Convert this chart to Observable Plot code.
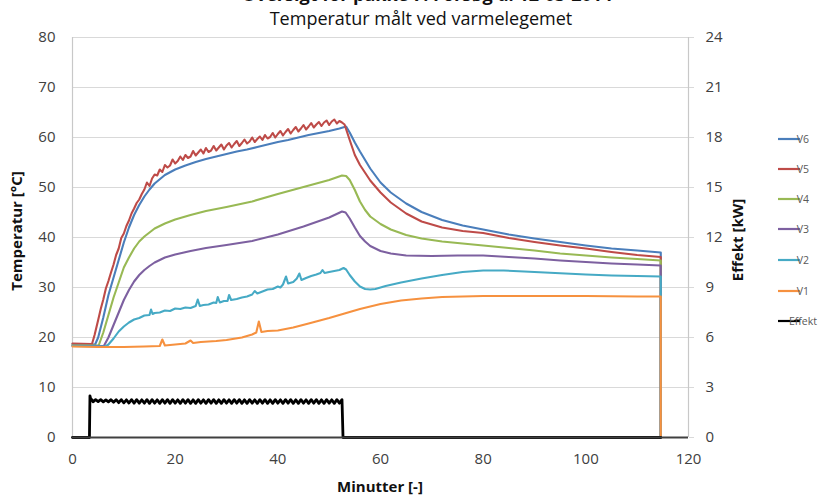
<!DOCTYPE html>
<html>
<head>
<meta charset="utf-8">
<script src="https://cdn.jsdelivr.net/npm/d3@7"></script>
<script src="https://cdn.jsdelivr.net/npm/@observablehq/plot@0.6"></script>
<style>
  html, body { margin: 0; padding: 0; background: #fff; }
  #chart { width: 827px; height: 499px; overflow: hidden; }
</style>
</head>
<body>
<div id="chart"></div>
<script>
// ---- tick labels / texts ----
const titleLine1 = "Oversigt for pakke 7. Forsøg d. 12-03-2014";
const titleLine2 = "Temperatur målt ved varmelegemet";
const xLabel = "Minutter [-]";
const yLabelLeft = "Temperatur [°C]";
const yLabelRight = "Effekt [kW]";
const xTicks = [0, 20, 40, 60, 80, 100, 120];
const yTicks = [0, 10, 20, 30, 40, 50, 60, 70, 80];
const kwTicks = [0, 3, 6, 9, 12, 15, 18, 21, 24];
const seriesNames = ["V6", "V5", "V4", "V3", "V2", "V1", "Effekt"];
const seriesColors = ["#4A7EBB", "#BE4B48", "#98B954", "#7D60A0", "#46AAC5", "#F6913F", "#000000"];

// ---- series (minutes, °C) ----
const tV6 = [0, 4.4, 5, 6, 7, 8, 9, 10, 11, 12, 13, 14, 15, 16, 18, 20, 22, 24, 26, 28, 30, 32, 34, 36, 38, 40, 42, 44, 46, 48, 50, 52, 53.3, 54, 55, 56, 58, 60, 62, 65, 68, 72, 76, 80, 85, 90, 95, 100, 105, 110, 114.6, 114.6];
const V6 = [18.7, 18.6, 20, 24, 28.5, 32, 35.5, 39, 42, 44.5, 46.5, 48.2, 49.6, 50.8, 52.5, 53.6, 54.4, 55.1, 55.7, 56.2, 56.7, 57.2, 57.6, 58.1, 58.6, 59.1, 59.5, 60, 60.5, 60.9, 61.3, 61.8, 62.2, 61, 59, 57.2, 53.8, 51, 49, 46.8, 45.1, 43.5, 42.4, 41.6, 40.6, 39.8, 39.1, 38.4, 37.8, 37.4, 37.0, 0];

const tV5 = [0, 3.8, 4.3, 5, 5.5, 6, 6.5, 7, 7.5, 8, 8.5, 9, 9.5, 10, 10.5, 11, 11.5, 12, 12.5, 13, 13.5,
  14, 14.5, 15, 15.5, 16, 16.5, 17, 17.5, 18, 18.5, 19, 19.5,
  20, 20.5, 21, 21.5, 22, 22.5, 23, 23.5, 24, 24.5, 25, 25.5,
  26, 26.5, 27, 27.5, 28, 28.5, 29, 29.5, 30, 30.5, 31, 31.5,
  32, 32.5, 33, 33.5, 34, 34.5, 35, 35.5, 36, 36.5, 37, 37.5,
  38, 38.5, 39, 39.5, 40, 40.5, 41, 41.5, 42, 42.5, 43, 43.5,
  44, 44.5, 45, 45.5, 46, 46.5, 47, 47.5, 48, 48.5, 49, 49.5,
  50, 50.5, 51, 51.5, 52, 52.5, 53,
  54, 55, 56, 58, 60, 62, 65, 68, 72, 76, 80, 85, 90, 95, 100, 105, 110, 114.6, 114.6];
const V5 = [18.8, 18.7, 20.5, 23.5, 25.7, 27.6, 29.8, 31.3, 33.0, 34.6, 36.5, 37.8, 39.9, 40.8, 42.3, 43.4, 44.8, 45.8, 46.9, 47.6, 48.7,
  49.6, 51.0, 50.3, 51.8, 52.6, 52.4, 53.6, 53.1, 54.5, 54.0, 54.4, 55.6,
  54.8, 55.3, 56.2, 55.5, 56.5, 55.9, 56.2, 57.3, 56.4, 57.0, 57.6, 56.8,
  57.9, 57.1, 57.4, 58.3, 57.4, 58.0, 58.6, 57.6, 58.4, 58.9, 58.0, 58.7,
  59.3, 58.3, 58.9, 59.6, 58.8, 59.2, 60.0, 59.1, 59.7, 60.2, 59.5, 60.5,
  59.8, 60.1, 60.9, 60.0, 60.7, 61.3, 60.4, 61.1, 61.7, 60.8, 61.5, 62.1,
  61.2, 61.8, 62.5, 61.6, 62.2, 62.9, 62.0, 62.6, 63.1, 62.3, 63.0, 63.4,
  62.5, 63.2, 63.6, 62.8, 63.3, 63.0, 62.6,
  59.5, 56.5, 54.5, 51.4, 49, 47, 44.8, 43.2, 42, 41.3, 40.9, 39.9, 39.1, 38.4, 37.8, 37.1, 36.5, 36.1, 0];

const tV4 = [0, 5.1, 6, 7, 8, 9, 10, 11, 12, 13, 14, 15, 16, 18, 20, 23, 26, 30, 35, 40, 45, 50, 52.5, 53.3, 54, 55, 56, 57, 58, 60, 62, 65, 68, 72, 76, 80, 85, 90, 95, 100, 105, 110, 114.6, 114.6];
const V4 = [18.5, 18.4, 21, 24.5, 28, 31, 34, 36, 37.8, 39.2, 40.2, 41, 41.8, 42.8, 43.6, 44.5, 45.3, 46.1, 47.2, 48.7, 50.1, 51.5, 52.4, 52.3, 51.5, 49.5, 47.2, 45.5, 44.2, 42.7, 41.6, 40.5, 39.8, 39.2, 38.8, 38.4, 37.9, 37.4, 36.8, 36.4, 36, 35.7, 35.4, 0];

const tV3 = [0, 6.1, 7, 8, 9, 10, 11, 12, 13, 14, 15, 16, 18, 20, 23, 26, 30, 35, 40, 45, 50, 52.5, 53.2, 54, 55, 56, 57, 58, 60, 62, 65, 70, 75, 80, 85, 90, 95, 100, 105, 110, 114.6, 114.6];
const V3 = [18.4, 18.3, 20, 22.5, 25, 27.5, 29.5, 31.2, 32.5, 33.5, 34.3, 35, 36, 36.6, 37.3, 37.9, 38.5, 39.3, 40.6, 42.2, 44, 45.2, 45, 43.8, 42, 40.3, 39.2, 38.3, 37.3, 36.8, 36.4, 36.3, 36.4, 36.4, 36.1, 35.8, 35.4, 35.1, 34.8, 34.6, 34.4, 0];

const tV2 = [0, 6.4, 7, 8, 9, 10, 11, 12, 13, 14, 15, 15.3, 15.6, 16, 17, 18, 19, 20, 21, 22, 23, 24, 24.4, 24.8, 25.5, 26.5, 27.5, 28, 28.3, 28.7, 29.5, 30.2, 30.5, 30.9, 32, 33, 34, 35, 35.5, 36, 37, 38, 39, 40, 40.5, 41, 41.6, 42, 43, 43.7, 44.2, 44.6, 45.5, 46.5, 47.5, 48.3, 48.7, 49.1, 50, 51, 52, 52.8, 53.3, 54, 55, 56, 57, 58, 59, 61, 64, 68, 72, 76, 80, 84, 88, 92, 96, 100, 105, 110, 114.6, 114.6];
const V2 = [18.3, 18.2, 18.6, 19.8, 21.2, 22.2, 23.0, 23.6, 23.9, 24.4, 24.5, 25.6, 24.7, 24.9, 25.0, 25.4, 25.3, 25.8, 25.7, 26.0, 25.9, 26.3, 27.6, 26.3, 26.5, 26.6, 27.0, 26.9, 28.1, 27.0, 27.3, 27.3, 28.5, 27.5, 27.7, 28.0, 28.2, 28.6, 29.3, 28.8, 29.2, 29.6, 29.7, 30.2, 30.0, 30.6, 32.2, 30.8, 31.1, 31.8, 32.8, 31.5, 31.9, 32.3, 32.6, 32.9, 33.5, 32.9, 33.1, 33.3, 33.5, 33.9, 33.6, 32.5, 31.2, 30.2, 29.7, 29.6, 29.7, 30.3, 31, 31.8, 32.5, 33.1, 33.4, 33.4, 33.2, 33, 32.8, 32.6, 32.4, 32.3, 32.2, 0];

const tV1 = [0, 5, 10, 14, 17, 17.5, 18, 20, 22, 23, 23.5, 25, 28, 30, 33, 35, 35.8, 36.3, 36.8, 38, 40, 43, 46, 50, 53, 56, 60, 64, 68, 72, 80, 90, 100, 110, 114.6, 114.6];
const V1 = [18.2, 18.1, 18.1, 18.2, 18.3, 19.6, 18.4, 18.6, 18.8, 19.4, 18.9, 19.1, 19.3, 19.5, 20, 20.6, 21, 23.2, 21.1, 21.3, 21.4, 22, 22.8, 23.9, 24.8, 25.7, 26.7, 27.4, 27.8, 28.1, 28.3, 28.3, 28.3, 28.2, 28.2, 0];

// ---- effekt (minutes, kW) ----
const tEffekt = [0, 3.3, 3.4, 3.55, 3.8,
  4, 4.5, 5, 5.5, 6, 6.5, 7, 7.5, 8, 8.5,
  9, 9.5, 10, 10.5, 11, 11.5, 12, 12.5, 13, 13.5,
  14, 14.5, 15, 15.5, 16, 16.5, 17, 17.5, 18, 18.5,
  19, 19.5, 20, 20.5, 21, 21.5, 22, 22.5, 23, 23.5,
  24, 24.5, 25, 25.5, 26, 26.5, 27, 27.5, 28, 28.5,
  29, 29.5, 30, 30.5, 31, 31.5, 32, 32.5, 33, 33.5,
  34, 34.5, 35, 35.5, 36, 36.5, 37, 37.5, 38, 38.5,
  39, 39.5, 40, 40.5, 41, 41.5, 42, 42.5, 43, 43.5,
  44, 44.5, 45, 45.5, 46, 46.5, 47, 47.5, 48, 48.5,
  49, 49.5, 50, 50.5, 51, 51.5, 52, 52.5,
  52.7, 114.6];
const effektKW = [0, 0, 2.5, 2.3, 2.26,
  2.14, 2.27, 2.15, 2.27, 2.14, 2.26, 2.14, 2.27, 2.12, 2.27,
  2.09, 2.27, 2.08, 2.26, 2.07, 2.27, 2.06, 2.27, 2.06, 2.26,
  2.06, 2.27, 2.05, 2.27, 2.06, 2.26, 2.05, 2.27, 2.06, 2.27,
  2.05, 2.27, 2.06, 2.26, 2.05, 2.27, 2.06, 2.27, 2.05, 2.26,
  2.05, 2.27, 2.06, 2.26, 2.05, 2.27, 2.06, 2.27, 2.05, 2.26,
  2.05, 2.27, 2.06, 2.26, 2.05, 2.27, 2.06, 2.27, 2.05, 2.26,
  2.05, 2.27, 2.06, 2.26, 2.05, 2.27, 2.06, 2.27, 2.05, 2.26,
  2.05, 2.27, 2.06, 2.26, 2.05, 2.27, 2.06, 2.27, 2.05, 2.26,
  2.05, 2.27, 2.06, 2.26, 2.05, 2.27, 2.06, 2.27, 2.05, 2.26,
  2.05, 2.27, 2.06, 2.26, 2.05, 2.27, 2.06, 2.27,
  0, 0];

// ---- build tables ----
const kwToC = 80 / 24;
function rows(t, v, name) { return t.map((x, i) => ({ t: x, v: v[i], name })); }
const series = [
  rows(tV6, V6, "V6"), rows(tV5, V5, "V5"), rows(tV4, V4, "V4"),
  rows(tV3, V3, "V3"), rows(tV2, V2, "V2"), rows(tV1, V1, "V1")
];
const effekt = tEffekt.map((x, i) => ({ t: x, v: effektKW[i] * kwToC }));

const FONT = "'Open Sans', 'DejaVu Sans', sans-serif";

const chart = Plot.plot({
  width: 827, height: 499,
  marginLeft: 72, marginRight: 139, marginTop: 37, marginBottom: 62,
  x: { domain: [0, 120] },
  y: { domain: [0, 80] },
  style: { fontFamily: FONT, fontSize: "15px", color: "#404040", background: "#fff", overflow: "visible" },
  marks: [
    Plot.gridY(yTicks, { stroke: "#d9d9d9", strokeOpacity: 1, strokeWidth: 1 }),
    Plot.ruleX([0, 120], { stroke: "#c8c8c8", strokeWidth: 1.2 }),
    ...series.map((d, i) => Plot.line(d, { x: "t", y: "v", stroke: seriesColors[i], strokeWidth: 2.1, curve: "linear" })),
    Plot.line(effekt, { x: "t", y: "v", stroke: "#000", strokeWidth: 2.8 }),
    Plot.ruleY([0], { stroke: "#404040", strokeWidth: 2 }),
    Plot.axisY({ ticks: yTicks, tickSize: 0, tickPadding: 17, label: null, fill: "#404040" }),
    Plot.axisY({ anchor: "right", ticks: yTicks, tickSize: 5, tickPadding: 12, label: null, stroke: "#d9d9d9", fill: "#404040",
      tickFormat: d => String(Math.round(d / kwToC)) }),
    Plot.axisX({ ticks: xTicks, tickSize: 0, tickPadding: 16, label: null, fill: "#404040" })
  ]
});
document.getElementById("chart").appendChild(chart);

// ---- titles, axis labels, legend ----
const svg = d3.select(chart);
svg.append("text").attr("x", 427).attr("y", 1).attr("text-anchor", "middle")
  .attr("font-family", FONT).attr("font-size", 18).attr("font-weight", "bold").attr("fill", "#111")
  .text(titleLine1);
svg.append("text").attr("x", 421).attr("y", 25).attr("text-anchor", "middle")
  .attr("font-family", FONT).attr("font-size", 18).attr("fill", "#111")
  .text(titleLine2);
svg.append("text").attr("x", 380).attr("y", 492).attr("text-anchor", "middle")
  .attr("font-family", FONT).attr("font-size", 15).attr("font-weight", "bold").attr("fill", "#111")
  .text(xLabel);
svg.append("text").attr("transform", "translate(22,231) rotate(-90)").attr("text-anchor", "middle")
  .attr("font-family", FONT).attr("font-size", 15).attr("font-weight", "bold").attr("fill", "#111")
  .text(yLabelLeft);
svg.append("text").attr("transform", "translate(743,240) rotate(-90)").attr("text-anchor", "middle")
  .attr("font-family", FONT).attr("font-size", 15).attr("font-weight", "bold").attr("fill", "#111")
  .text(yLabelRight);

const legendY = [139, 169, 199, 229, 260, 291, 321];
const lg = svg.append("g");
seriesNames.forEach((n, i) => {
  lg.append("line").attr("x1", 778).attr("x2", 800).attr("y1", legendY[i]).attr("y2", legendY[i])
    .attr("stroke", seriesColors[i]).attr("stroke-width", 2.2);
  lg.append("text").attr("x", 803).attr("y", legendY[i]).attr("dy", "0.35em")
    .attr("font-family", FONT).attr("font-size", 10.5).attr("fill", "#595959").text(n);
});
</script>
</body>
</html>
